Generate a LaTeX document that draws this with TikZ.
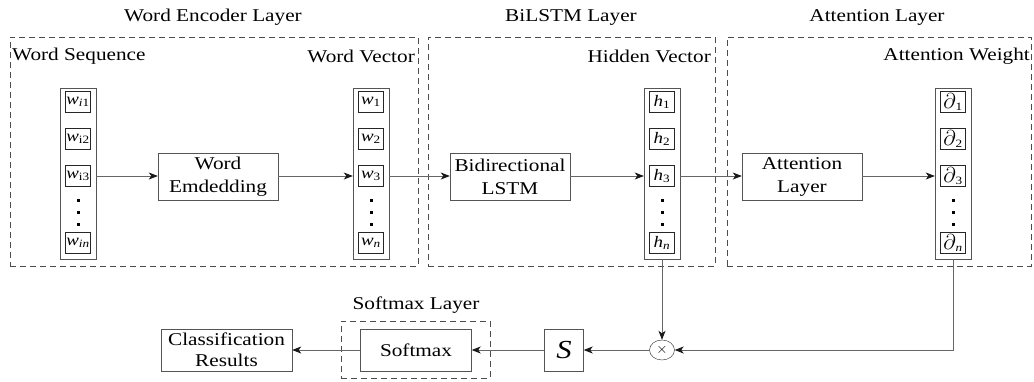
\documentclass[tikz,border=0pt]{standalone}
\usepackage{fontspec}
\setmainfont[FakeStretch=1.18]{Liberation Serif}
\usetikzlibrary{arrows.meta,shapes.geometric}
\definecolor{ln}{HTML}{666666}
\definecolor{bx}{HTML}{555555}
\tikzset{
  lbl/.style={font=\fontsize{18}{23}\selectfont, inner sep=0},
  proc/.style={draw=bx, minimum width=120pt, minimum height=47pt, align=center, inner sep=0, font=\fontsize{18}{23}\selectfont},
  cell/.style={draw=black!85, minimum width=25pt, minimum height=21pt, inner sep=0, font=\fontsize{16}{16}\selectfont},
  colbox/.style={draw=bx, minimum width=36pt, minimum height=171pt, inner sep=0},
  layer/.style={draw=black!70, dash pattern=on 6pt off 4pt, inner sep=0},
  dotsq/.style={fill=black, minimum size=3pt, inner sep=0},
  arr/.style={draw=ln, line width=0.8pt, -{Stealth[length=9pt,width=7pt,inset=2.5pt,color=black!90]}},
}
\newcommand\wsub[1]{\textit{w}\textsubscript{#1}}
\newcommand\hsub[1]{\textit{h}\textsubscript{#1}}
\newcommand\dsub[1]{\scalebox{1.25}{$\partial$}\textsubscript{#1}}
\begin{document}
\begin{tikzpicture}[x=1pt,y=-1pt]
\useasboundingbox (0,0) rectangle (1034,381);
% layer boxes
\node[layer, minimum width=408pt, minimum height=229pt] (L1) at (214,151.5) {};
\node[layer, minimum width=287pt, minimum height=229pt] (L2) at (571.5,151.5) {};
\node[layer, minimum width=304pt, minimum height=229pt] (L3) at (879,151.5) {};
\node[lbl] (t1) at (213,17) {Word Encoder Layer};
\node[lbl] (t2) at (571,17) {BiLSTM Layer};
\node[lbl] (t3) at (877,17) {Attention Layer};
\node[lbl, anchor=west] (s1) at (12,56) {Word Sequence};
\node[lbl, anchor=east] (s2) at (415,56) {Word Vector};
\node[lbl, anchor=east] (s3) at (711,56) {Hidden Vector};
\node[lbl, anchor=east] (s4) at (1030,56) {Attention Weight};
% columns
\foreach \X/\p/\la/\lb/\lc/\ld in {
  78/a/{\wsub{\textit{i}1}}/{\wsub{i2}}/{\wsub{i3}}/{\wsub{\textit{in}}},
  371/b/{\wsub{1}}/{\wsub{2}}/{\wsub{3}}/{\wsub{\textit{n}}},
  662/c/{\hsub{1}}/{\hsub{2}}/{\hsub{3}}/{\hsub{\textit{n}}},
  953/d/{\dsub{1}}/{\dsub{2}}/{\dsub{3}}/{\dsub{\textit{n}}}}{
  \node[colbox] (\p0) at (\X,173.5) {};
  \node[cell] (\p1) at (\X,102) {\la};
  \node[cell] (\p2) at (\X,139) {\lb};
  \node[cell] (\p3) at (\X,176) {\lc};
  \node[cell] (\p4) at (\X,243) {\ld};
  \node[dotsq] (\p5) at (\X,200) {};
  \node[dotsq] (\p6) at (\X,212) {};
  \node[dotsq] (\p7) at (\X,224) {};
}
% process boxes
\node[proc] (emb) at (218,176.5) {Word\\Emdedding};
\node[proc] (bil) at (510,176.5) {Bidirectional\\LSTM};
\node[proc] (att) at (802,176.5) {Attention\\Layer};
\draw[arr] (a3 -| a0.east) -- (a3 -| emb.west);
\draw[arr] (b3 -| emb.east) -- (b3 -| b0.west);
\draw[arr] (b3 -| b0.east) -- (b3 -| bil.west);
\draw[arr] (c3 -| bil.east) -- (c3 -| c0.west);
\draw[arr] (c3 -| c0.east) -- (c3 -| att.west);
\draw[arr] (d3 -| att.east) -- (d3 -| d0.west);
% bottom
\node[draw=black!85, ellipse, minimum width=25pt, minimum height=20pt, inner sep=0, font=\fontsize{14}{14}\selectfont] (mul) at (662,350) {$\times$};
\node[draw=bx, minimum width=39pt, minimum height=42pt, inner sep=0, font=\fontsize{26}{26}\selectfont] (s) at (564,350) {\textit{S}};
\node[layer, minimum width=149pt, minimum height=57pt] (L4) at (415.5,349.5) {};
\node[lbl] (t4) at (416,305) {Softmax Layer};
\node[proc, minimum width=111pt, minimum height=42pt] (smx) at (416,350) {Softmax};
\node[proc, minimum width=131pt, minimum height=42pt, font=\fontsize{18}{21}\selectfont] (cls) at (226.5,350) {Classification\\Results};
\draw[arr] (c0.south) -- (mul.north);
\draw[arr] (d0.south) |- (mul.east);
\draw[arr] (mul.west) -- (s.east);
\draw[arr] (s.west) -- (smx.east);
\draw[arr] (smx.west) -- (cls.east);
\end{tikzpicture}
\end{document}
